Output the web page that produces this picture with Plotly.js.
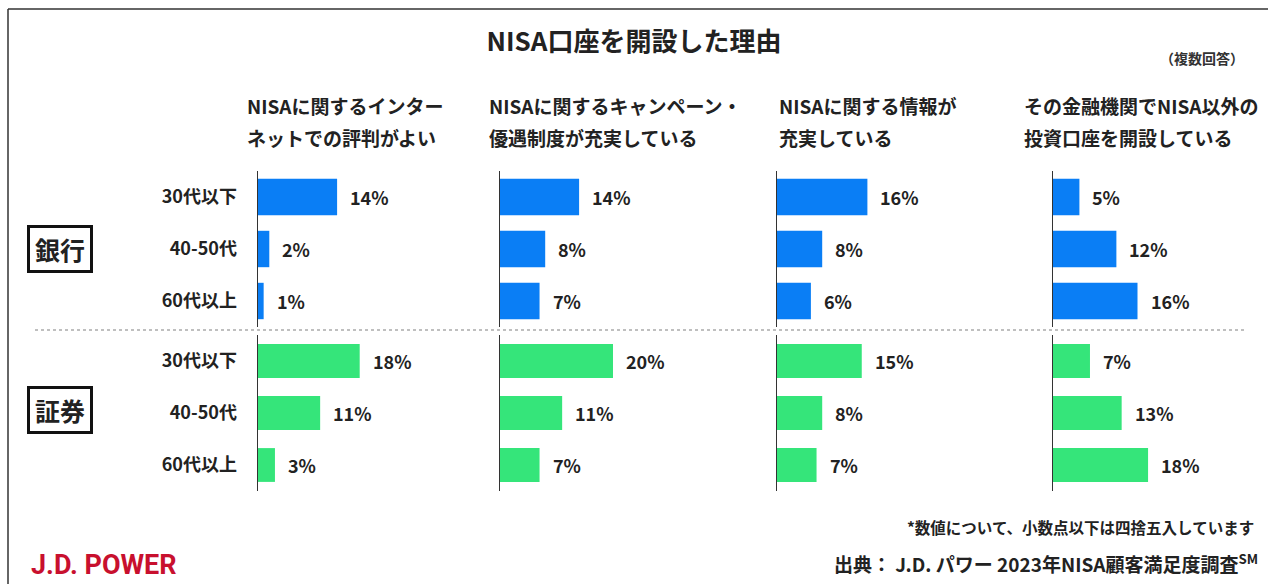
<!DOCTYPE html>
<html>
<head>
<meta charset="utf-8">
<script src="https://cdn.plot.ly/plotly-3.0.1.min.js"></script>
<style>
html,body{margin:0;padding:0;background:#fff;}
#chart{width:1268px;height:584px;}
</style>
</head>
<body>
<div id="chart"></div>
<script>
// ---- data ----
const ages = ['30代以下', '40-50代', '60代以上'];
const groups = ['銀行', '証券'];
const reasons = [
  ['NISAに関するインター', 'ネットでの評判がよい'],
  ['NISAに関するキャンペーン・', '優遇制度が充実している'],
  ['NISAに関する情報が', '充実している'],
  ['その金融機関でNISA以外の', '投資口座を開設している']
];
const bankValues = [[14, 2, 1], [14, 8, 7], [16, 8, 6], [5, 12, 16]];
const secValues = [[18, 11, 3], [20, 11, 7], [15, 8, 7], [7, 13, 18]];
const titleText = 'NISA口座を開設した理由';
const noteText = '（複数回答）';
const footnoteText = '*数値について、小数点以下は四捨五入しています';
const sourceText = '出典： J.D. パワー 2023年NISA顧客満足度調査<sup>SM</sup>';
const brandText = 'J.D. POWER';

// ---- layout helpers ----
const W = 1268, H = 584;
const FONT = '"Noto Sans CJK JP", "Noto Sans", sans-serif';
const px = x => x / W;
const py = y => 1 - y / H;
const colStart = [258, 500, 777, 1053];
const colWidth = 230;
const pxPerPct = 5.65;
const rowTop = [171, 335];
const rowH = 156;
const colors = ['#0a7ef5', '#35e57a'];
const barWidth = [0.7, 0.65];
const seriesByRow = [bankValues, secValues];

const data = [];
const layout = {
  width: W, height: H,
  margin: {l: 0, r: 0, t: 0, b: 0},
  paper_bgcolor: '#fff', plot_bgcolor: 'rgba(0,0,0,0)',
  showlegend: false,
  font: {family: FONT, color: '#222'},
  title: {
    text: '<b>' + titleText + '</b>',
    x: 0.5, xanchor: 'center', y: py(42), yanchor: 'middle',
    font: {family: FONT, size: 26, color: '#222'}
  },
  annotations: [],
  shapes: []
};

for (let c = 0; c < 4; c++) {
  const xn = c === 0 ? 'xaxis' : 'xaxis' + (c + 1);
  layout[xn] = {
    domain: [px(colStart[c]), px(colStart[c] + colWidth)],
    range: [0, colWidth / pxPerPct],
    visible: false, fixedrange: true,
    anchor: 'y'
  };
}

for (let r = 0; r < 2; r++) {
  for (let c = 0; c < 4; c++) {
    const idx = r * 4 + c + 1;
    const yn = idx === 1 ? 'yaxis' : 'yaxis' + idx;
    const xref = c === 0 ? 'x' : 'x' + (c + 1);
    const yref = idx === 1 ? 'y' : 'y' + idx;
    layout[yn] = {
      domain: [py(rowTop[r] + rowH), py(rowTop[r])],
      type: 'category',
      autorange: 'reversed',
      anchor: xref,
      showline: true, linecolor: '#333', linewidth: 1.5,
      showgrid: false, zeroline: false,
      ticks: '',
      showticklabels: c === 0,
      ticklabelstandoff: 16,
      tickfont: {family: FONT, size: 18, color: '#222', weight: 'bold'},
      fixedrange: true
    };
    const vals = seriesByRow[r][c];
    data.push({
      type: 'bar', orientation: 'h',
      x: vals, y: ages,
      xaxis: xref, yaxis: yref,
      width: barWidth[r],
      marker: {color: colors[r], line: {width: 0}},
      hoverinfo: 'skip'
    });
    vals.forEach((v, i) => {
      layout.annotations.push({
        xref: xref, yref: yref, x: v, y: ages[i],
        text: '<b>' + v + '%</b>',
        xanchor: 'left', yanchor: 'middle', xshift: 11,
        showarrow: false,
        font: {family: FONT, size: 18, color: '#222'}
      });
    });
  }
}

// column headers
const headerX = [245, 487, 777, 1022];
const headerY = [105, 137];
reasons.forEach((lines, c) => {
  lines.forEach((t, j) => {
    layout.annotations.push({
      xref: 'paper', yref: 'paper',
      x: px(headerX[c]), y: py(headerY[j]),
      xanchor: 'left', yanchor: 'middle',
      text: '<b>' + t + '</b>', showarrow: false,
      font: {family: FONT, size: 19, color: '#222'}
    });
  });
});

// group boxes
const groupY = [249, 410];
groups.forEach((g, r) => {
  layout.annotations.push({
    xref: 'paper', yref: 'paper',
    x: px(60), y: py(groupY[r]),
    xanchor: 'center', yanchor: 'middle',
    text: '<b>' + g + '</b>', showarrow: false,
    width: 58, height: 40, borderpad: 1,
    bordercolor: '#111', borderwidth: 3,
    font: {family: FONT, size: 25, color: '#222'}
  });
});

// note, footnote, source, brand
layout.annotations.push({
  xref: 'paper', yref: 'paper', x: px(1246), y: py(58),
  xanchor: 'right', yanchor: 'middle', showarrow: false,
  text: '<b>' + noteText + '</b>',
  font: {family: FONT, size: 14, color: '#333'}
});
layout.annotations.push({
  xref: 'paper', yref: 'paper', x: px(1256), y: py(527),
  xanchor: 'right', yanchor: 'middle', showarrow: false,
  text: '<b>' + footnoteText + '</b>',
  font: {family: FONT, size: 15.5, color: '#222'}
});
layout.annotations.push({
  xref: 'paper', yref: 'paper', x: px(1260), y: py(563),
  xanchor: 'right', yanchor: 'middle', showarrow: false,
  text: '<b>' + sourceText + '</b>',
  font: {family: FONT, size: 19, color: '#222'}
});
layout.annotations.push({
  xref: 'paper', yref: 'paper', x: px(29), y: py(565),
  xanchor: 'left', yanchor: 'middle', showarrow: false,
  text: '<b>' + brandText + '</b>',
  font: {family: 'Roboto, "Liberation Sans", sans-serif', size: 27, color: '#c8102e'}
});

// frame & separator
layout.shapes.push({type: 'line', xref: 'paper', yref: 'paper',
  x0: px(8), x1: 1, y0: py(9), y1: py(9), line: {color: '#333', width: 1.5}});
layout.shapes.push({type: 'line', xref: 'paper', yref: 'paper',
  x0: px(8), x1: px(8), y0: py(9), y1: 0, line: {color: '#333', width: 1.5}});
layout.shapes.push({type: 'line', xref: 'paper', yref: 'paper',
  x0: px(35), x1: px(1246), y0: py(330), y1: py(330), line: {color: '#aaa', width: 1.5, dash: 'dot'}});

Plotly.newPlot('chart', data, layout, {displayModeBar: false, staticPlot: true});
</script>
</body>
</html>
